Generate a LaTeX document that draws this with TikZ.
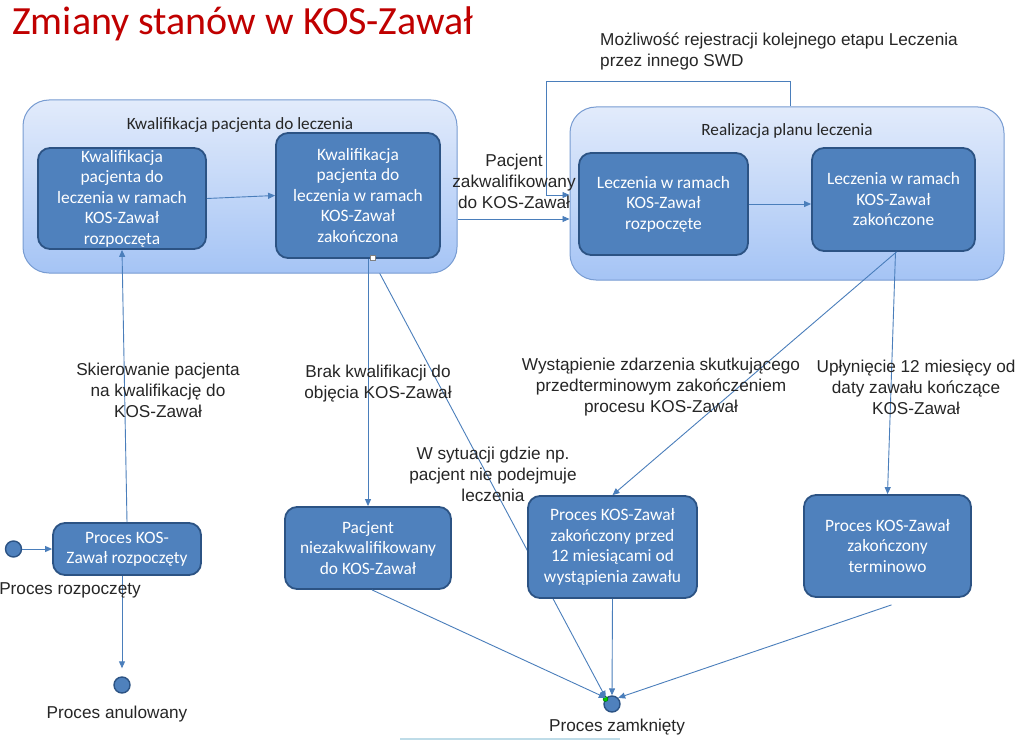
\documentclass[tikz,border=0pt]{standalone}
\usepackage{fontspec}
\setmainfont{Carlito}
\newfontfamily\arialf{Liberation Sans}
\usetikzlibrary{arrows.meta,calc}
\definecolor{boxfill}{RGB}{79,129,189}
\definecolor{boxborder}{RGB}{44,83,132}
\definecolor{grptop}{RGB}{226,235,251}
\definecolor{grpbot}{RGB}{165,196,245}
\definecolor{grpborder}{RGB}{120,156,210}
\definecolor{arrcol}{RGB}{74,126,187}
\definecolor{txtgray}{RGB}{38,38,38}
\definecolor{titlered}{RGB}{192,0,0}
\pgfdeclarelayer{bottom}
\pgfdeclarelayer{mid}
\pgfsetlayers{bottom,mid,main}
\tikzset{
 st/.style={draw=boxborder, line width=1.8pt, fill=boxfill, rounded corners=12pt, text=white, align=center, font=\fontsize{17.4}{20.5}\selectfont, inner sep=2pt},
 grp/.style={draw=grpborder, line width=1pt, top color=grptop, bottom color=grpbot, rounded corners=26pt, inner sep=0},
 arr/.style={draw=arrcol, line width=0.9pt, -{Triangle[length=7pt,width=6pt]}},
 lbl/.style={font=\arialf\fontsize{17.2}{21}\selectfont, text=txtgray, align=center, inner sep=0},
 glbl/.style={font=\fontsize{17.2}{19}\selectfont, text=txtgray, inner sep=0},
 pdot/.style={circle, fill=boxfill, draw=boxborder, line width=1.4pt, minimum size=16pt, inner sep=0},
}
\begin{document}
\begin{tikzpicture}[x=1pt,y=-1pt]
\useasboundingbox (0,0) rectangle (1024,741);
\begin{pgfonlayer}{bottom}
\fill[white] (0,0) rectangle (1024,741);
\end{pgfonlayer}
% title
\node[anchor=base west, inner sep=0, text=titlered, font=\fontsize{40}{44}\selectfont] (title) at (12,35) {Zmiany stanów w KOS-Zawał};
% groups
\node[grp, minimum width=434pt, minimum height=173pt] (g1) at (240,186.5) {};
\node[grp, minimum width=434pt, minimum height=173pt] (g2) at (787,193.5) {};
\node[glbl] (g1l) at (240,125) {Kwalifikacja pacjenta do leczenia};
\node[glbl] (g2l) at (787,131) {Realizacja planu leczenia};
% state boxes
\node[st, minimum width=168pt, minimum height=101pt] (A) at (122,198.5) {Kwalifikacja\\pacjenta do\\leczenia w ramach\\KOS-Zawał\\rozpoczęta};
\node[st, minimum width=164pt, minimum height=125pt] (B) at (358,195.5) {Kwalifikacja\\pacjenta do\\leczenia w ramach\\KOS-Zawał\\zakończona};
\node[st, minimum width=169pt, minimum height=102pt] (C) at (663.5,204) {Leczenia w ramach\\KOS-Zawał\\rozpoczęte};
\node[st, minimum width=163pt, minimum height=103pt] (D) at (893.5,199.5) {Leczenia w ramach\\KOS-Zawał\\zakończone};
\node[st, minimum width=148pt, minimum height=52pt] (E) at (127,549) {Proces KOS-\\Zawał rozpoczęty};
\node[st, minimum width=166pt, minimum height=82pt] (F) at (368,548) {Pacjent\\niezakwalifikowany\\do KOS-Zawał};
\node[st, minimum width=169pt, minimum height=102pt] (G) at (612.5,547) {Proces KOS-Zawał\\zakończony przed\\12 miesiącami od\\wystąpienia zawału};
\node[st, minimum width=167pt, minimum height=102pt] (H) at (887.5,546) {Proces KOS-Zawał\\zakończony\\terminowo};
% pseudo states
\node[pdot] (S) at (13.5,549) {};
\node[pdot] (X) at (122,685) {};
\node[pdot] (Z) at (612,704) {};
\node[circle, fill=green!80!black, draw=green!40!black, line width=0.4pt, minimum size=5pt, inner sep=0] (Zh) at (605.5,699) {};
% small handle
\node[draw=gray, fill=white, line width=0.5pt, minimum size=5pt, inner sep=0] (Bh) at (373,258) {};
% connectors
\begin{pgfonlayer}{mid}
\draw[arr] (Bh.south) -- (Z.north west);
\end{pgfonlayer}
\draw[arr] (S.east) -- (E.west);
\draw[arr] (E.north) -- (A.south);
\draw[arr, shorten >=8pt] (E.south -| X.north) -- (X.north);
\draw[arr] (A.east) -- (B.west);
\draw[arr] (B.south -| F.north) -- (F.north);
\draw[arr] (g1.east |- 0,219) -- (g2.west |- 0,219);
\coordinate (l1) at (790,81);
\coordinate (l2) at (546,81);
\coordinate (l3) at (546,195);
\draw[arr] (g2.north -| l1) -- (l1) -- (l2) -- (l3) -- (g2.west |- l3);
\draw[arr] (C.east) -- (D.west |- C.east);
\draw[arr] ([xshift=3pt]D.south) -- (G.north);
\draw[arr] ([xshift=2pt]D.south) -- (H.north);
\draw[arr] ([xshift=4pt]F.south) -- (Z.north west);
\draw[arr] (G.south) -- (Z.north);
\draw[arr] ([xshift=4pt,yshift=-7pt]H.south) -- (Z.north east);
% labels
\node[lbl] (lp) at (514,181) {Pacjent\\zakwalifikowany\\do KOS-Zawał};
\node[lbl, align=left, anchor=west] (lm) at (600,51.5) {Możliwość rejestracji kolejnego etapu Leczenia\\przez innego SWD};
\node[lbl] (ls) at (158,390) {Skierowanie pacjenta\\na kwalifikację do\\KOS-Zawał};
\node[lbl] (lb) at (378,383.5) {Brak kwalifikacji do\\objęcia KOS-Zawał};
\node[lbl] (lw) at (661,387) {Wystąpienie zdarzenia skutkującego\\przedterminowym zakończeniem\\procesu KOS-Zawał};
\node[lbl] (lu) at (916,387) {Upłynięcie 12 miesięcy od\\daty zawału kończące\\KOS-Zawał};
\node[lbl] (lsy) at (493,474.5) {W sytuacji gdzie np.\\pacjent nie podejmuje\\leczenia};
\node[lbl] (lr) at (70,590) {Proces rozpoczęty};
\node[lbl] (la) at (117,714) {Proces anulowany};
\node[lbl] (lz) at (617,727) {Proces zamknięty};
% faint slide decoration
\draw[line width=2pt, color={rgb,255:red,190;green,220;blue,232}] (400,739) -- (620,739);
\end{tikzpicture}
\end{document}
